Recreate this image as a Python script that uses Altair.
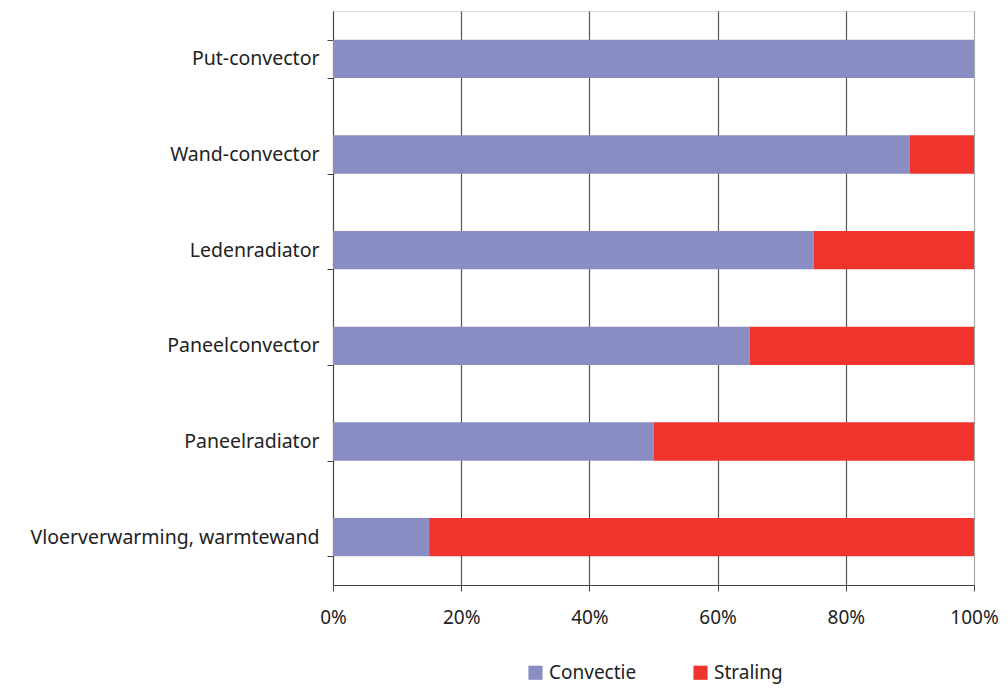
import altair as alt
import pandas as pd

categories = ["Put-convector", "Wand-convector", "Ledenradiator",
              "Paneelconvector", "Paneelradiator", "Vloerverwarming, warmtewand"]
convectie = [100, 90, 75, 65, 50, 15]
straling = [0, 10, 25, 35, 50, 85]
series = ["Convectie", "Straling"]
colors = ["#8A8DC4", "#EE342C"]
x_ticks = [0, 20, 40, 60, 80, 100]

rows = []
for c, cv, st in zip(categories, convectie, straling):
    rows.append({"cat": c, "serie": series[0], "val": cv, "ord": 0})
    rows.append({"cat": c, "serie": series[1], "val": st, "ord": 1})
df = pd.DataFrame(rows)

FONT = "Noto Sans"

chart = alt.Chart(df).mark_bar().encode(
    y=alt.Y("cat:N", sort=categories, title=None,
            scale=alt.Scale(paddingInner=0.6, paddingOuter=0.3),
            axis=alt.Axis(labelFontSize=19.5, labelFont=FONT, labelColor="#222",
                          labelPadding=8, tickSize=6, tickColor="#444", labelLimit=500,
                          domainColor="#444", tickBand="extent", grid=False)),
    x=alt.X("val:Q", stack=True, title=None,
            scale=alt.Scale(domain=[0, 100], nice=False),
            axis=alt.Axis(values=x_ticks, labelExpr="datum.value + '%'",
                          labelFontSize=19, labelFont=FONT, labelColor="#222",
                          labelPadding=17, tickSize=6, tickColor="#444",
                          labelFlush=False, domainColor="#444",
                          gridColor={"condition": {"test": "datum.value == 100", "value": "#a8a8a8"},
                                     "value": "#555555"},
                          gridWidth=1.2)),
    color=alt.Color("serie:N", scale=alt.Scale(domain=series, range=colors),
                    legend=alt.Legend(title=None, orient="none", direction="horizontal",
                                      legendX=193, legendY=652,
                                      symbolType="square", symbolSize=200,
                                      symbolStrokeWidth=0, symbolOpacity=1,
                                      labelFontSize=19, labelFont=FONT, labelColor="#222",
                                      columnPadding=54, labelOffset=4)),
    order=alt.Order("ord:Q"),
).properties(
    width=641, height=574,
    autosize=alt.AutoSizeParams(type="none"),
    padding={"left": 325, "top": 3, "right": 26, "bottom": 102},
).configure_view(stroke="#a8a8a8", strokeWidth=1.2).configure(background="white")

chart.save("out.html", embed_options={"renderer": "svg", "actions": False})
